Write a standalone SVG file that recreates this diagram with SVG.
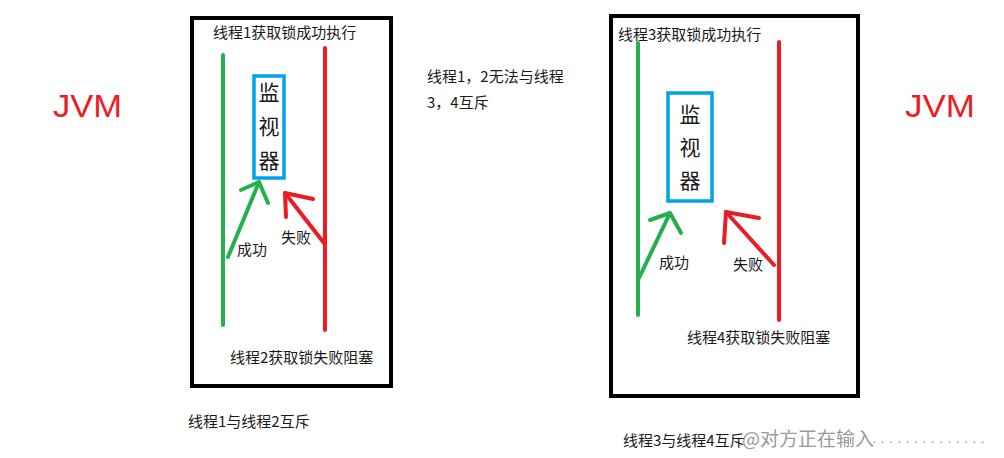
<svg xmlns="http://www.w3.org/2000/svg" width="1004" height="458" viewBox="0 0 1004 458">
<style>
.t{font-family:"Noto Sans CJK SC","Liberation Sans",sans-serif;font-size:15px;fill:#1a1a1a}
.jvm{font-family:"Liberation Sans","Noto Sans",sans-serif;font-size:32px;fill:#ed1c24}
.frame{fill:none;stroke:#000;stroke-width:4}
.g{stroke:#22b14c;stroke-width:4;fill:none;stroke-linecap:round;stroke-linejoin:round}
.r{stroke:#ed1c24;stroke-width:4;fill:none;stroke-linecap:round;stroke-linejoin:round}
.mon{fill:#fff;stroke:#00a2e8;stroke-width:3.5}
.mt{font-family:"Noto Sans CJK SC",sans-serif;font-size:21px;fill:#1a1a1a;text-anchor:middle}
</style>
<rect width="1004" height="458" fill="#fff"/>
<text class="jvm" x="53" y="117" textLength="69" lengthAdjust="spacingAndGlyphs">JVM</text>
<text class="jvm" x="905" y="117" textLength="70" lengthAdjust="spacingAndGlyphs">JVM</text>
<g id="left-jvm">
<rect class="frame" x="192" y="18" width="199" height="368"/>
<text class="t" x="213" y="38">线程1获取锁成功执行</text>
<text class="t" x="230" y="363">线程2获取锁失败阻塞</text>
</g>
<g id="left-monitor">
<rect class="mon" x="254" y="76" width="30" height="102"/>
<text class="mt" x="269" y="100">监</text>
<text class="mt" x="269" y="134">视</text>
<text class="mt" x="269" y="168">器</text>
</g>
<g id="right-jvm">
<rect class="frame" x="611" y="16" width="247" height="380"/>
<text class="t" x="618" y="40">线程3获取锁成功执行</text>
<text class="t" x="687" y="343">线程4获取锁失败阻塞</text>
</g>
<g id="right-monitor">
<rect class="mon" x="668" y="93" width="44" height="108"/>
<text class="mt" x="690" y="122">监</text>
<text class="mt" x="690" y="155">视</text>
<text class="mt" x="690" y="188">器</text>
</g>
<g id="connectors">
<line class="g" x1="223" y1="55" x2="223" y2="325"/>
<line class="r" x1="325" y1="48" x2="325" y2="330"/>
<polyline class="g" points="228,257 259,182"/>
<polyline class="g" points="241,190 259,182 268,203"/>
<polyline class="r" points="324,243 285,193"/>
<polyline class="r" points="313,199 285,193 286,217"/>
<line class="g" x1="638" y1="43" x2="638" y2="315"/>
<line class="r" x1="779" y1="42" x2="779" y2="320"/>
<polyline class="g" points="639,278 670,213"/>
<polyline class="g" points="650,220 670,213 681,233"/>
<polyline class="r" points="774,265 726,212"/>
<polyline class="r" points="759,218 726,212 724,243"/>
</g>
<g id="labels">
<text class="t" x="237" y="255">成功</text>
<text class="t" x="281" y="243">失败</text>
<text class="t" x="659" y="268">成功</text>
<text class="t" x="733" y="270">失败</text>
<text class="t" x="427" y="82">线程1，2无法与线程</text>
<text class="t" x="427" y="108">3，4互斥</text>
<text class="t" x="188" y="427">线程1与线程2互斥</text>
<text class="t" x="623" y="446">线程3与线程4互斥</text>
<text x="742" y="446" style="font-family:'Noto Sans CJK SC',sans-serif;font-size:19px;fill:#9a9a9a">@对方正在输入</text>
<text x="872" y="446" style="font-family:'Liberation Sans',sans-serif;font-size:14px;fill:#9a9a9a" textLength="113" lengthAdjust="spacing">··············</text>
</g>
</svg>
